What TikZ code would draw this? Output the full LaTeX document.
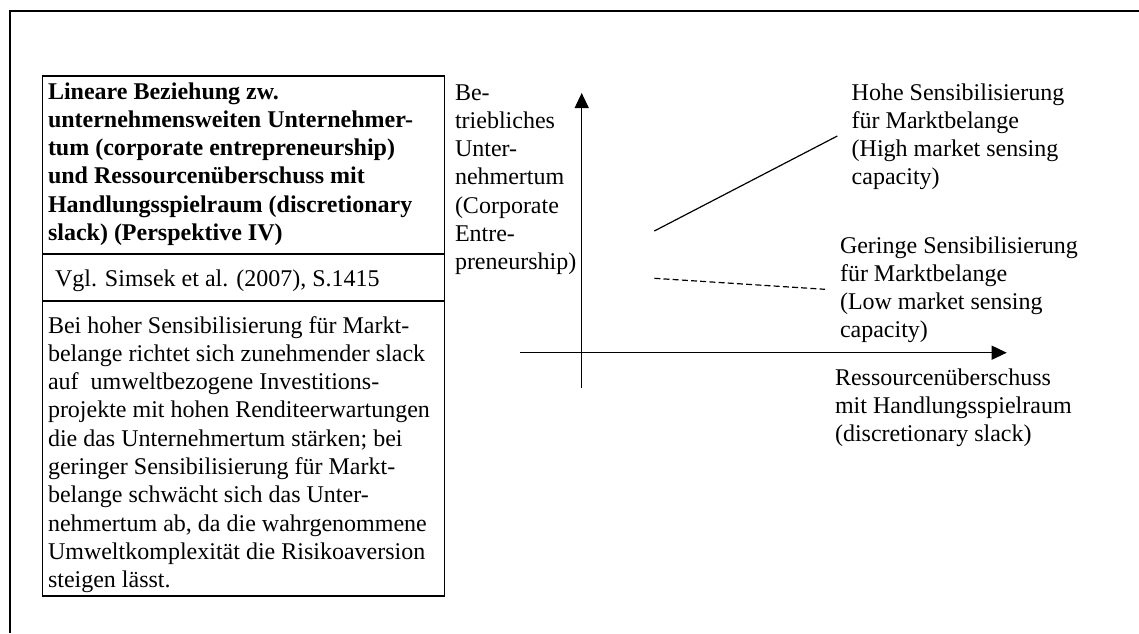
\documentclass[tikz,border=0pt]{standalone}
\usepackage{fontspec}
\setmainfont{Liberation Serif}
\usetikzlibrary{arrows.meta}
\newcommand{\mlines}[1]{\begin{tabular}[t]{@{}l@{}}#1\end{tabular}}
\begin{document}
\begin{tikzpicture}[x=0.5pt,y=-0.5pt,
  txt/.style={anchor=base west,inner sep=0pt,outer sep=0pt,font=\fontsize{12}{14.15}\selectfont},
  frameline/.style={line width=1pt},
  boxline/.style={line width=0.6pt},
  axisarrow/.style={line width=0.6pt,-{Triangle[length=7.5pt,width=7pt]}},
  curve/.style={line width=0.6pt},
  dashcurve/.style={line width=0.6pt,dash pattern=on 3pt off 1.6pt}]
\useasboundingbox (0,0) rectangle (1139,633);
% outer frame (only top and left edges are visible)
\draw[frameline] (9.5,633) -- (9.5,10.5) -- (1139,10.5);
% left box
\draw[boxline] (42.5,76) rectangle (444.5,596);
\draw[boxline] (42.5,254) -- (444.5,254);
\draw[boxline] (42.5,301) -- (444.5,301);
\node[txt] (title) at (48,99) {\bfseries\mlines{Lineare Beziehung zw.\\unternehmensweiten Unternehmer-\\tum (corporate entrepreneurship)\\und Ressourcenüberschuss mit\\Handlungsspielraum (discretionary\\slack) (Perspektive IV)}};
\node[txt] (cite) at (55,286) {Vgl. Simsek et al. (2007), S.1415};
\node[txt] (body) at (48,333) {\mlines{Bei hoher Sensibilisierung für Markt-\\belange richtet sich zunehmender slack\\auf\ \ umweltbezogene Investitions-\\projekte mit hohen Renditeerwartungen\\die das Unternehmertum stärken; bei\\geringer Sensibilisierung für Markt-\\belange schwächt sich das Unter-\\nehmertum ab, da die wahrgenommene\\Umweltkomplexität die Risikoaversion\\steigen lässt.}};
% axes
\coordinate (ybot) at (581.7,388);
\coordinate (ytop) at (581.7,93);
\coordinate (xleft) at (520,352.7);
\coordinate (xright) at (1006.7,352.7);
\draw[axisarrow] (ybot) -- (ytop);
\draw[axisarrow] (xleft) -- (xright);
\node[txt] (ylab) at (455,100) {\mlines{Be-\\triebliches\\Unter-\\nehmertum\\(Corporate\\Entre-\\preneurship)}};
\node[txt] (xlab) at (835,385) {\mlines{Ressourcenüberschuss\\mit Handlungsspielraum\\(discretionary slack)}};
% lines
\coordinate (hiA) at (654.3,231);
\coordinate (hiB) at (837.3,136);
\coordinate (loA) at (654.3,278.3);
\coordinate (loB) at (825,289.3);
\draw[curve] (hiA) -- (hiB);
\draw[dashcurve] (loA) -- (loB);
\node[txt] (hi) at (851.7,100) {\mlines{Hohe Sensibilisierung\\für Marktbelange\\(High market sensing\\capacity)}};
\node[txt] (lo) at (840,253) {\mlines{Geringe Sensibilisierung\\für Marktbelange\\(Low market sensing\\capacity)}};
\end{tikzpicture}
\end{document}
